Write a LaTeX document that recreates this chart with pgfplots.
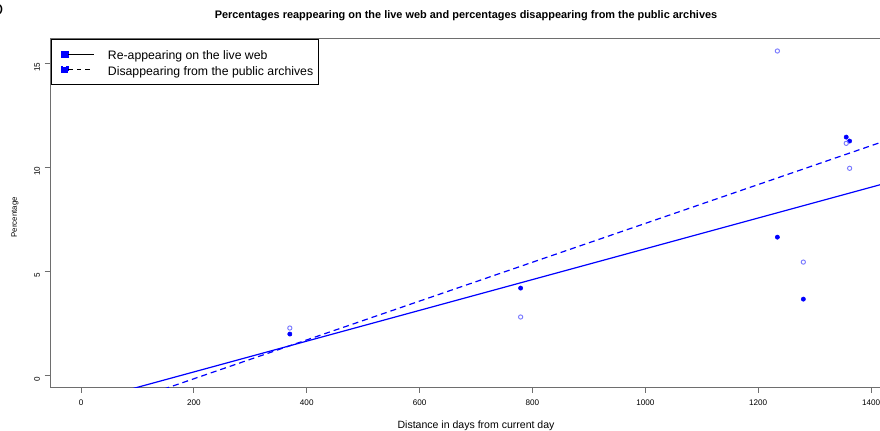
\documentclass[border=0pt]{standalone}
\usepackage{fontspec}
\setmainfont{Liberation Sans}
\usepackage{pgfplots}
\pgfplotsset{compat=1.18}
\definecolor{opencol}{RGB}{120,120,255}
\definecolor{boxgray}{RGB}{110,110,110}
\begin{document}
\begin{tikzpicture}
\begin{axis}[
  at={(37.5pt,31.875pt)}, anchor=south west,
  scale only axis, width=658.1pt, height=262.05pt,
  xmin=-55, xmax=1500, ymin=-0.6, ymax=16.2,
  axis line style={boxgray, line width=0.7pt},
  xtick={0,200,400,600,800,1000,1200,1400},
  ytick={0,5,10,15},
  xtick pos=bottom, ytick pos=left,
  tick align=outside, major tick length=4pt,
  tick style={boxgray, line width=0.6pt},
  /pgf/number format/assume math mode=true,
  /pgf/number format/1000 sep={},
  xticklabel style={font=\fontsize{6.1}{7}\selectfont, yshift=-2pt},
  yticklabel style={font=\fontsize{6.1}{7}\selectfont, rotate=90, anchor=south, xshift=-3pt},
  xlabel={Distance in days from current day},
  xlabel style={font=\fontsize{7.9}{9}\selectfont, at={(axis description cs:0.4855,-0.109)}, anchor=center},
  ylabel={Percentage},
  ylabel style={font=\fontsize{5.9}{7}\selectfont, at={(axis description cs:-0.040,0.487)}, anchor=center, rotate=0},
  legend style={at={(0.001,0.997)}, anchor=north west, draw=black, line width=0.6pt, fill=white,
    font=\fontsize{9.2}{11}\selectfont, inner xsep=3.75pt, inner ysep=6.75pt, row sep=2.5pt,
    nodes={inner sep=0pt, text height=8.5pt, text depth=0.5pt},
    cells={anchor=west}},
  legend cell align=left,
]
\addplot[blue, line width=0.9pt,
  legend image code/.code={\path[draw=none,fill=none] (-4.25pt,-0.1pt) rectangle (34.5pt,0.1pt); \fill[blue] (0pt,-2.1pt) rectangle (4.6pt,2.1pt); \draw[black, line width=0.6pt, solid] (4.6pt,0pt) -- (24pt,0pt);}]
  coordinates {(-55,-1.737) (1500,9.77)};
\addlegendentry{Re-appearing on the live web}
\addplot[blue, line width=0.9pt, dash pattern=on 4.5pt off 3pt,
  legend image code/.code={\path[draw=none,fill=none] (-4.25pt,-0.1pt) rectangle (34.5pt,0.1pt); \fill[blue] (0pt,-2.1pt) rectangle (4.6pt,2.1pt); \draw[black, line width=0.6pt, dash pattern=on 3.5pt off 3pt] (4.6pt,0pt) -- (24pt,0pt);}]
  coordinates {(-55,-2.56) (1500,11.96)};
\addlegendentry{Disappearing from the public archives}
\addplot[only marks, mark=*, mark size=1.6pt, blue, forget plot]
  coordinates {(370,1.97) (779,4.18) (1234,6.63) (1280,3.65) (1356,11.44) (1362,11.25)};
\addplot[only marks, mark=o, mark size=1.6pt, opencol, mark options={line width=0.7pt}, forget plot]
  coordinates {(370,2.26) (779,2.79) (1234,15.58) (1280,5.43) (1356,11.14) (1362,9.94)};
\end{axis}
\node[font=\fontsize{8.2}{10}\selectfont\bfseries, anchor=center] at (349.5pt,310.5pt)
  {Percentages reappearing on the live web and percentages disappearing from the public archives};
\node[font=\fontsize{12.6}{14}\selectfont, anchor=east] at (6pt,315.5pt) {D};
\pgfresetboundingbox
\useasboundingbox (0pt,0pt) rectangle (660pt,322.5pt);
\end{tikzpicture}
\end{document}
